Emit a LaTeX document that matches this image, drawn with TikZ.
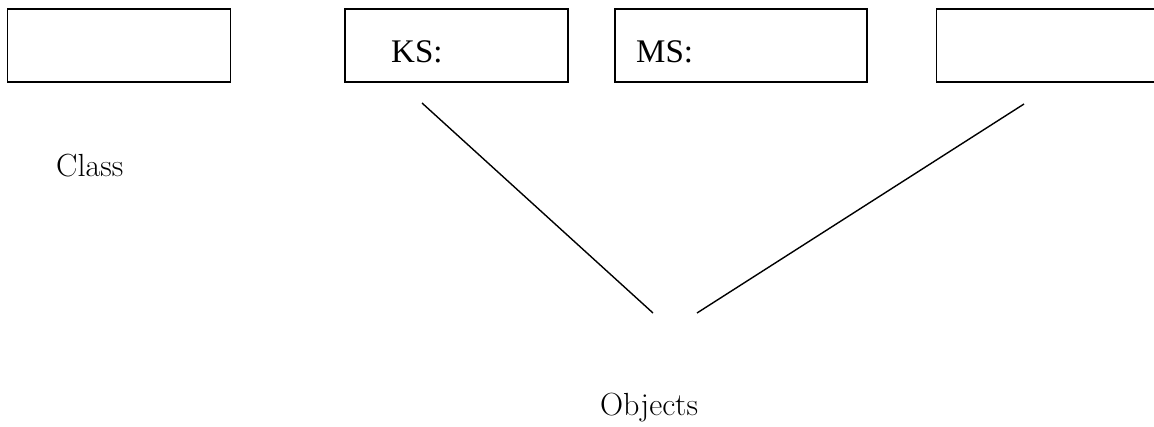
\documentclass[tikz,border=0pt]{standalone}
\usepackage{fontspec}
\setmainfont{Liberation Serif}
\newfontfamily\lmfont{Latin Modern Roman}
\begin{document}
\begin{tikzpicture}[x=1pt,y=-1pt,
  box/.style={draw=black, line width=1.8pt, minimum width=223pt, minimum height=73pt, inner sep=0pt},
  conn/.style={draw=black, line width=1.4pt},
  lbl/.style={anchor=base west, inner sep=0pt, font=\lmfont\fontsize{32}{38}\selectfont},
  tlbl/.style={anchor=base west, inner sep=0pt, font=\rmfamily\fontsize{33}{40}\selectfont}]
\useasboundingbox (0,0) rectangle (1154,426);
\clip (0,0) rectangle (1154,426);
\fill[white] (0,0) rectangle (1154,426);
\node[box] (b1) at (119,45.5) {};
\node[box] (b2) at (456.5,45.5) {};
\node[box, minimum width=252pt] (b3) at (741,45.5) {};
\node[box] (b4) at (1048,45.5) {};
\node[tlbl] (ks) at (391,62) {KS:};
\node[tlbl] (ms) at (636,62) {MS:};
\node[lbl] (cls) at (56,176) {Class};
\node[lbl] (obj) at (600,415) {Objects};
\coordinate (l1a) at (422,103);
\coordinate (l1b) at (653,313);
\coordinate (l2a) at (1024,104);
\coordinate (l2b) at (697,313);
\draw[conn] (l1a) -- (l1b);
\draw[conn] (l2a) -- (l2b);
\end{tikzpicture}
\end{document}
